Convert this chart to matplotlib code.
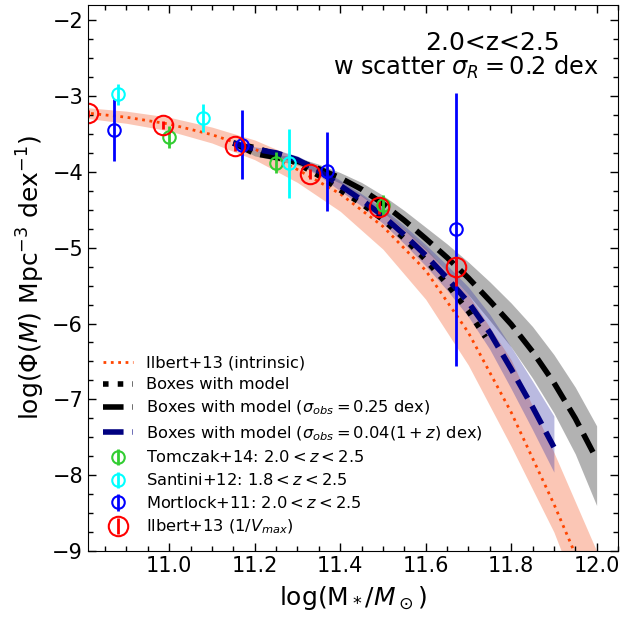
import numpy as np
import matplotlib
matplotlib.use("Agg")
import matplotlib.pyplot as plt
from matplotlib.ticker import MultipleLocator

# ---------------- data ----------------
# Ilbert+13 intrinsic (dotted) and its band
ilb_x = [10.8, 10.9, 11.0, 11.1, 11.2, 11.3, 11.4, 11.5, 11.6, 11.7, 11.8, 11.9, 12.0]
ilb_y = [-3.22, -3.28, -3.37, -3.51, -3.70, -3.97, -4.29, -4.72, -5.30, -6.12, -7.17, -8.38, -9.70]
ilb_up = [-3.15, -3.20, -3.28, -3.41, -3.58, -3.82, -4.12, -4.50, -5.00, -5.62, -6.48, -7.70, -9.00]
ilb_lo = [-3.29, -3.36, -3.46, -3.62, -3.84, -4.14, -4.52, -5.02, -5.68, -6.55, -7.62, -8.75, -10.2]

# Boxes with model (no obs scatter)
box_x = [11.15, 11.2, 11.25, 11.3, 11.35, 11.4, 11.45, 11.5, 11.55, 11.6, 11.65, 11.7, 11.74]
box_y = [-3.62, -3.68, -3.77, -3.89, -4.05, -4.24, -4.42, -4.63, -4.88, -5.16, -5.48, -5.84, -6.18]

# Boxes with model, sigma_obs = 0.25 dex
b25_x = [11.15, 11.2, 11.25, 11.3, 11.35, 11.4, 11.45, 11.5, 11.55, 11.6, 11.65,
         11.7, 11.75, 11.8, 11.85, 11.9, 11.95, 12.0]
b25_y = [-3.62, -3.76, -3.81, -3.86, -3.96, -4.08, -4.23, -4.42, -4.64, -4.88, -5.13,
         -5.40, -5.70, -6.01, -6.37, -6.78, -7.25, -7.79]
b25_up = [-3.60, -3.73, -3.77, -3.81, -3.90, -4.01, -4.14, -4.31, -4.51, -4.73, -4.95,
          -5.19, -5.45, -5.73, -6.04, -6.41, -6.84, -7.35]
b25_lo = [-3.64, -3.79, -3.85, -3.91, -4.02, -4.15, -4.32, -4.53, -4.77, -5.03, -5.31,
          -5.62, -5.96, -6.31, -6.72, -7.18, -7.72, -8.40]

# Boxes with model, sigma_obs = 0.04(1+z) dex
b04_x = [11.15, 11.2, 11.25, 11.3, 11.35, 11.4, 11.45, 11.5, 11.55, 11.6, 11.65,
         11.7, 11.75, 11.8, 11.85, 11.9]
b04_y = [-3.62, -3.70, -3.75, -3.84, -3.99, -4.18, -4.37, -4.58, -4.83, -5.10, -5.40,
         -5.72, -6.12, -6.60, -7.10, -7.63]
b04_up = [-3.60, -3.67, -3.71, -3.79, -3.93, -4.11, -4.29, -4.48, -4.71, -4.96, -5.23,
          -5.52, -5.88, -6.31, -6.76, -7.22]
b04_lo = [-3.64, -3.73, -3.79, -3.89, -4.05, -4.25, -4.45, -4.68, -4.95, -5.24, -5.56,
          -5.91, -6.34, -6.86, -7.40, -7.96]

# Tomczak+14
tom_x = [11.00, 11.25, 11.50]
tom_y = [-3.54, -3.88, -4.44]
tom_e = [0.14, 0.14, 0.13]

# Santini+12
san_x = [10.88, 11.08, 11.28]
san_y = [-2.98, -3.29, -3.89]
san_e = [0.14, 0.19, 0.45]

# Mortlock+11
mor_x = [10.87, 11.17, 11.37, 11.67]
mor_y = [-3.45, -3.64, -3.99, -4.76]
mor_e = [0.41, 0.45, 0.52, 1.80]

# Ilbert+13 1/Vmax
iv_x = [10.81, 10.985, 11.155, 11.33, 11.49, 11.67]
iv_y = [-3.23, -3.38, -3.66, -4.03, -4.46, -5.26]
iv_elo = [0.05, 0.05, 0.06, 0.07, 0.09, 0.24]
iv_ehi = [0.05, 0.05, 0.06, 0.07, 0.09, 0.12]

# ---------------- plot ----------------
fig = plt.figure(figsize=(6.44, 6.19), dpi=100)
ax = fig.add_axes([88/644, 1-551/619, (618-88)/644, (551-5)/619])

ax.fill_between(ilb_x, ilb_lo, ilb_up, color='#f9a184', alpha=0.6, lw=0)
ax.fill_between(b25_x, b25_lo, b25_up, color='gray', alpha=0.6, lw=0)
ax.fill_between(b04_x, b04_lo, b04_up, color='#3a3aa8', alpha=0.35, lw=0)

ax.plot(ilb_x, ilb_y, ls=':', color='orangered', lw=2, label='Ilbert+13 (intrinsic)')
ax.plot(box_x, box_y, ls=':', color='black', lw=4, label='Boxes with model')
ax.plot(b25_x, b25_y, ls='--', color='black', lw=4,
        label=r'Boxes with model ($\sigma_{obs}=0.25$ dex)')
ax.plot(b04_x, b04_y, ls='--', color='navy', lw=4,
        label=r'Boxes with model ($\sigma_{obs}=0.04(1+z)$ dex)')

ax.errorbar(tom_x, tom_y, yerr=tom_e, fmt='o', mfc='none', mec='limegreen', ecolor='limegreen',
            ms=9, mew=1.5, elinewidth=2, color='limegreen', label=r'Tomczak+14: $2.0<z<2.5$')
ax.errorbar(san_x, san_y, yerr=san_e, fmt='o', mfc='none', mec='cyan', ecolor='cyan',
            ms=9, mew=1.5, elinewidth=2, color='cyan', label=r'Santini+12: $1.8<z<2.5$')
ax.errorbar(mor_x, mor_y, yerr=mor_e, fmt='o', mfc='none', mec='blue', ecolor='blue',
            ms=9, mew=1.5, elinewidth=2, color='blue', label=r'Mortlock+11: $2.0<z<2.5$')
ax.errorbar(iv_x, iv_y, yerr=[iv_elo, iv_ehi], fmt='o', mfc='none', mec='red', ecolor='red',
            ms=14, mew=1.5, elinewidth=2, color='red', label=r'Ilbert+13 ($1/V_{max}$)')

ax.set_xlim(10.81, 12.05)
ax.set_ylim(-9, -1.8)
ax.xaxis.set_major_locator(MultipleLocator(0.2))
ax.xaxis.set_minor_locator(MultipleLocator(0.05))
ax.yaxis.set_major_locator(MultipleLocator(1))
ax.yaxis.set_minor_locator(MultipleLocator(0.25))
ax.tick_params(which='both', direction='in', top=True, right=True, labelsize=15)
ax.tick_params(which='major', length=6, width=1)
ax.tick_params(which='minor', length=3.5, width=1)

ax.set_xlabel(r'log(M$_*/M_\odot$)', fontsize=18, labelpad=6)
ax.set_ylabel(r'log($\Phi(M)$ Mpc$^{-3}$ dex$^{-1}$)', fontsize=18)

ax.text(11.757, -2.30, '2.0<z<2.5', fontsize=18, ha='center', va='center')
ax.text(11.693, -2.62, r'w scatter $\sigma_R=0.2$ dex', fontsize=17.3, ha='center', va='center')

ax.legend(loc='lower left', frameon=False, fontsize=11.7, handlelength=1.85,
          labelspacing=0.42)

fig.savefig('out.png', dpi=100)
